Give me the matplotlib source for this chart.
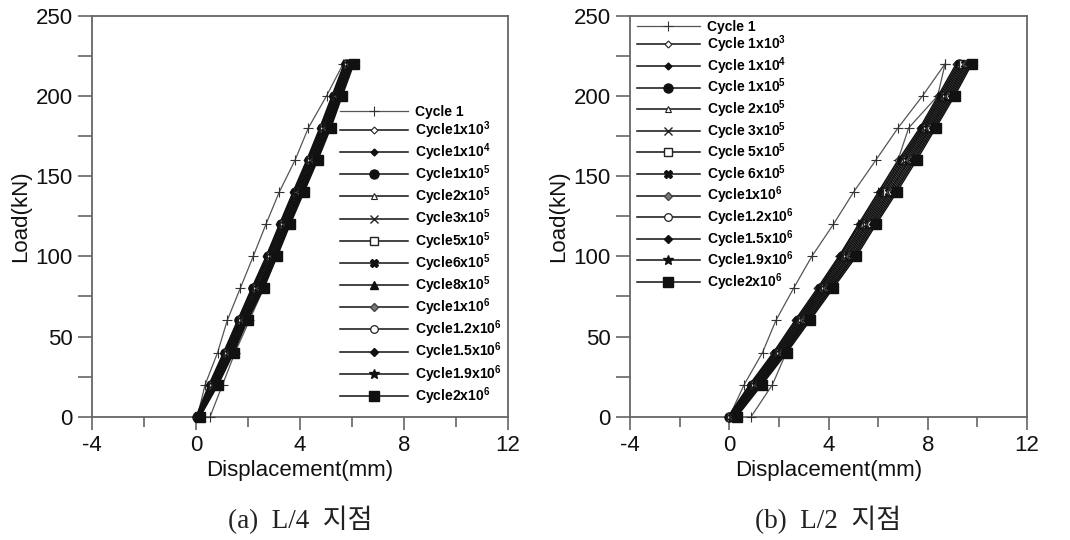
import matplotlib
matplotlib.use("Agg")
import matplotlib.pyplot as plt
from matplotlib.ticker import MultipleLocator

plt.rcParams['font.family'] = ['Liberation Sans', 'DejaVu Sans']
plt.rcParams['axes.unicode_minus'] = False
plt.rcParams['mathtext.fontset'] = 'custom'
plt.rcParams['mathtext.rm'] = 'Liberation Sans:bold'
plt.rcParams['mathtext.bf'] = 'Liberation Sans:bold'
plt.rcParams['mathtext.it'] = 'Liberation Sans:bold'

# ---------------- data ----------------
loads = [0, 20, 40, 60, 80, 100, 120, 140, 160, 180, 200, 220]
loads_down = [220, 200, 180, 160, 140, 120, 100, 80, 60, 40, 20, 0]

# (a) L/4 point
l4_labels = ["Cycle 1", "Cycle1x10$^3$", "Cycle1x10$^4$", "Cycle1x10$^5$",
             "Cycle2x10$^5$", "Cycle3x10$^5$", "Cycle5x10$^5$", "Cycle6x10$^5$",
             "Cycle8x10$^5$", "Cycle1x10$^6$", "Cycle1.2x10$^6$", "Cycle1.5x10$^6$",
             "Cycle1.9x10$^6$", "Cycle2x10$^6$"]
l4_cycle1_up = [0.05, 0.35, 0.83, 1.20, 1.70, 2.20, 2.69, 3.20, 3.81, 4.32, 5.02, 5.66]
l4_cycle1_down = [5.85, 5.45, 5.10, 4.62, 4.10, 3.60, 3.10, 2.60, 2.05, 1.50, 1.02, 0.54]
l4_c1e3 = [0.00, 0.50, 1.06, 1.60, 2.14, 2.70, 3.21, 3.73, 4.26, 4.76, 5.23, 5.70]
l4_c1e4 = [0.02, 0.53, 1.08, 1.62, 2.17, 2.72, 3.24, 3.76, 4.29, 4.79, 5.26, 5.72]
l4_c1e5 = [0.03, 0.56, 1.12, 1.66, 2.21, 2.76, 3.28, 3.80, 4.33, 4.83, 5.30, 5.76]
l4_c2e5 = [0.05, 0.60, 1.15, 1.69, 2.25, 2.80, 3.31, 3.83, 4.36, 4.86, 5.33, 5.79]
l4_c3e5 = [0.06, 0.63, 1.18, 1.72, 2.29, 2.83, 3.35, 3.87, 4.40, 4.90, 5.37, 5.83]
l4_c5e5 = [0.08, 0.66, 1.22, 1.76, 2.34, 2.88, 3.39, 3.91, 4.44, 4.94, 5.41, 5.86]
l4_c6e5 = [0.09, 0.69, 1.25, 1.79, 2.37, 2.91, 3.42, 3.94, 4.47, 4.97, 5.44, 5.89]
l4_c8e5 = [0.10, 0.72, 1.29, 1.83, 2.41, 2.95, 3.46, 3.98, 4.51, 5.01, 5.47, 5.92]
l4_c1e6 = [0.11, 0.74, 1.32, 1.86, 2.45, 2.98, 3.49, 4.01, 4.54, 5.04, 5.50, 5.95]
l4_c12e6 = [0.12, 0.77, 1.35, 1.89, 2.48, 3.02, 3.53, 4.05, 4.58, 5.08, 5.53, 5.98]
l4_c15e6 = [0.13, 0.80, 1.38, 1.92, 2.52, 3.05, 3.56, 4.08, 4.61, 5.11, 5.56, 6.01]
l4_c19e6 = [0.14, 0.82, 1.42, 1.95, 2.56, 3.09, 3.59, 4.12, 4.65, 5.15, 5.59, 6.04]
l4_c2e6 = [0.15, 0.85, 1.45, 1.98, 2.60, 3.12, 3.62, 4.15, 4.68, 5.18, 5.62, 6.07]

# (b) L/2 point
l2_labels = ["Cycle 1", "Cycle 1x10$^3$", "Cycle 1x10$^4$", "Cycle 1x10$^5$",
             "Cycle 2x10$^5$", "Cycle 3x10$^5$", "Cycle 5x10$^5$", "Cycle 6x10$^5$",
             "Cycle1x10$^6$", "Cycle1.2x10$^6$", "Cycle1.5x10$^6$",
             "Cycle1.9x10$^6$", "Cycle2x10$^6$"]
l2_cycle1_up = [0.00, 0.60, 1.34, 1.88, 2.59, 3.33, 4.20, 5.01, 5.91, 6.80, 7.79, 8.70]
l2_cycle1_down = [8.70, 8.40, 7.23, 6.80, 6.00, 5.20, 4.45, 3.65, 2.95, 2.30, 1.74, 0.88]
l2_c1e3 = [-0.05, 0.82, 1.78, 2.65, 3.55, 4.42, 5.22, 6.02, 6.82, 7.68, 8.42, 9.15]
l2_c1e4 = [-0.02, 0.86, 1.83, 2.70, 3.61, 4.48, 5.28, 6.09, 6.89, 7.74, 8.48, 9.21]
l2_c1e5 = [0.00, 0.91, 1.88, 2.76, 3.66, 4.55, 5.35, 6.15, 6.95, 7.80, 8.54, 9.27]
l2_c2e5 = [0.03, 0.95, 1.93, 2.81, 3.72, 4.61, 5.41, 6.22, 7.02, 7.85, 8.60, 9.32]
l2_c3e5 = [0.06, 1.00, 1.98, 2.87, 3.78, 4.67, 5.48, 6.28, 7.08, 7.91, 8.66, 9.38]
l2_c5e5 = [0.09, 1.05, 2.03, 2.92, 3.84, 4.74, 5.54, 6.35, 7.15, 7.97, 8.72, 9.44]
l2_c6e5 = [0.12, 1.09, 2.08, 2.98, 3.89, 4.80, 5.60, 6.42, 7.22, 8.03, 8.78, 9.50]
l2_c1e6 = [0.15, 1.14, 2.13, 3.03, 3.95, 4.86, 5.67, 6.48, 7.28, 8.09, 8.84, 9.55]
l2_c12e6 = [0.18, 1.18, 2.18, 3.09, 4.01, 4.93, 5.73, 6.55, 7.35, 8.14, 8.90, 9.61]
l2_c15e6 = [0.22, 1.23, 2.22, 3.14, 4.07, 4.99, 5.79, 6.62, 7.42, 8.20, 8.96, 9.67]
l2_c19e6 = [0.26, 1.27, 2.27, 3.20, 4.12, 5.05, 5.86, 6.68, 7.48, 8.26, 9.02, 9.72]
l2_c2e6 = [0.30, 1.32, 2.32, 3.25, 4.18, 5.12, 5.92, 6.75, 7.55, 8.32, 9.08, 9.78]

xticks = [-4, 0, 4, 8, 12]
yticks = [0, 50, 100, 150, 200, 250]
captions = ["(a)  L/4  지점", "(b)  L/2  지점"]

# ---------------- styles ----------------
st = {
    "1e3": dict(marker='D', ms=3.5, mfc='white', mec='#222', mew=0.8),
    "1e4": dict(marker='D', ms=3.5, mfc='#111', mec='#111'),
    "1e5": dict(marker='o', ms=6.5, mfc='#111', mec='#111'),
    "2e5": dict(marker='^', ms=5, mfc='white', mec='#222', mew=0.8),
    "3e5": dict(marker='x', ms=5.5, mec='#222', mew=1.0),
    "5e5": dict(marker='s', ms=6, mfc='white', mec='#222', mew=1.0),
    "6e5": dict(marker='X', ms=6, mfc='#111', mec='#111'),
    "8e5": dict(marker='^', ms=6, mfc='#111', mec='#111'),
    "1e6": dict(marker='D', ms=4, mfc='#777', mec='#444'),
    "12e6": dict(marker='o', ms=5.5, mfc='white', mec='#222', mew=0.9),
    "15e6": dict(marker='D', ms=4.5, mfc='#111', mec='#111'),
    "19e6": dict(marker='*', ms=7, mfc='#111', mec='#111'),
    "2e6": dict(marker='s', ms=6.5, mfc='#111', mec='#111'),
}
c1_style = dict(marker='+', ms=7, mew=0.8, color='#555', mec='#333')

fig = plt.figure(figsize=(10.7, 5.4), dpi=100)
ax1 = fig.add_axes([0.086, 0.2283, 0.3888, 0.7427])
ax2 = fig.add_axes([0.5888, 0.2283, 0.3710, 0.7427])

panels = [
    (ax1, l4_labels, l4_cycle1_up, l4_cycle1_down,
     [l4_c1e3, l4_c1e4, l4_c1e5, l4_c2e5, l4_c3e5, l4_c5e5, l4_c6e5, l4_c8e5,
      l4_c1e6, l4_c12e6, l4_c15e6, l4_c19e6, l4_c2e6],
     ["1e3", "1e4", "1e5", "2e5", "3e5", "5e5", "6e5", "8e5", "1e6", "12e6", "15e6", "19e6", "2e6"]),
    (ax2, l2_labels, l2_cycle1_up, l2_cycle1_down,
     [l2_c1e3, l2_c1e4, l2_c1e5, l2_c2e5, l2_c3e5, l2_c5e5, l2_c6e5,
      l2_c1e6, l2_c12e6, l2_c15e6, l2_c19e6, l2_c2e6],
     ["1e3", "1e4", "1e5", "2e5", "3e5", "5e5", "6e5", "1e6", "12e6", "15e6", "19e6", "2e6"]),
]

for ax, labels, up, down, series, keys in panels:
    ax.plot(up + down, loads + loads_down, lw=0.9, label=labels[0],
            clip_on=False, zorder=3, **c1_style)
    for lab, xs, k in zip(labels[1:], series, keys):
        ax.plot(xs, loads, lw=1.1, color='#111', label=lab, clip_on=False,
                zorder=3, **st[k])
    ax.set_xlim(-4, 12)
    ax.set_ylim(0, 250)
    ax.set_xticks(xticks)
    ax.set_yticks(yticks)
    ax.xaxis.set_minor_locator(MultipleLocator(2))
    ax.yaxis.set_minor_locator(MultipleLocator(25))
    ax.tick_params(axis='both', which='both', direction='out', color='#666',
                   width=1.2, labelsize=16, colors='#111')
    ax.tick_params(axis='x', which='major', length=9, pad=4)
    ax.tick_params(axis='x', which='minor', length=7)
    ax.tick_params(axis='y', which='both', length=10, pad=4)
    for s in ax.spines.values():
        s.set_color('#666')
        s.set_linewidth(1.3)
    ax.set_xlabel("Displacement(mm)", fontsize=16, color='#111', labelpad=3)
    ax.set_ylabel("Load(kN)", fontsize=16, color='#111', labelpad=3)

leg_kw = dict(frameon=False, borderpad=0, borderaxespad=0,
              prop={'weight': 'bold', 'size': 10}, handletextpad=0.5)
ax1.legend(loc='upper left', bbox_to_anchor=(0.596, 0.778), handlelength=4.9,
           labelspacing=0.04, **leg_kw)
ax2.legend(loc='upper left', bbox_to_anchor=(0.018, 0.99), handlelength=4.5,
           labelspacing=0.0, **leg_kw)

for ax, cap in zip([ax1, ax2], captions):
    ax.text(0.5, -0.258, cap, transform=ax.transAxes, ha='center', va='center',
            fontsize=19.5, family=['Liberation Serif', 'Noto Sans CJK KR'],
            color='#222')

fig.savefig("out.png", dpi=100, facecolor='white')
